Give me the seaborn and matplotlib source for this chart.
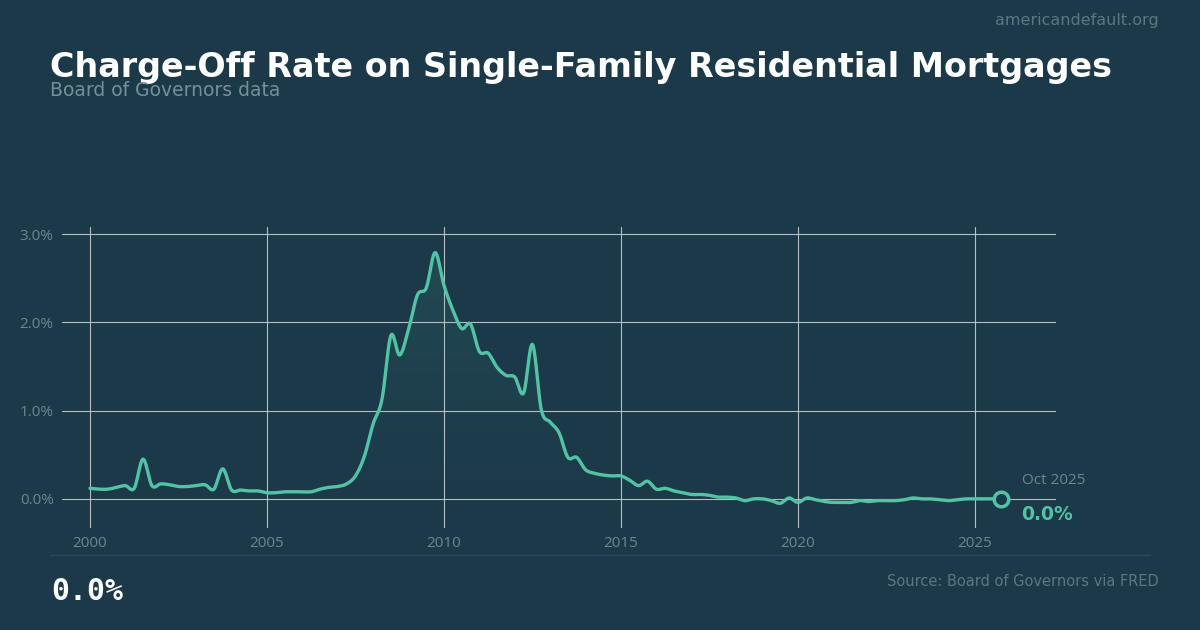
import numpy as np
import pandas as pd
import matplotlib
matplotlib.use('Agg')
import matplotlib.pyplot as plt
import seaborn as sns
from matplotlib.patches import Polygon


# quarterly charge-off rate, %, 2000Q1 .. 2025Q4
dates = pd.date_range('2000-01-01', '2025-10-01', freq='QS')
rate = [
    0.12, 0.11, 0.11, 0.13,   # 2000
    0.15, 0.12, 0.45, 0.15,   # 2001
    0.17, 0.16, 0.14, 0.14,   # 2002
    0.15, 0.16, 0.11, 0.34,   # 2003
    0.10, 0.10, 0.09, 0.09,   # 2004
    0.07, 0.07, 0.08, 0.08,   # 2005
    0.08, 0.08, 0.11, 0.13,   # 2006
    0.14, 0.17, 0.26, 0.48,   # 2007
    0.85, 1.13, 1.85, 1.63,   # 2008
    1.92, 2.31, 2.39, 2.79,   # 2009
    2.42, 2.14, 1.93, 1.98,   # 2010
    1.67, 1.65, 1.49, 1.40,   # 2011
    1.38, 1.20, 1.75, 1.01,   # 2012
    0.87, 0.75, 0.47, 0.47,   # 2013
    0.33, 0.29, 0.27, 0.26,   # 2014
    0.26, 0.21, 0.15, 0.20,   # 2015
    0.11, 0.12, 0.09, 0.07,   # 2016
    0.05, 0.05, 0.04, 0.02,   # 2017
    0.02, 0.01, -0.02, 0.00,  # 2018
    0.00, -0.02, -0.05, 0.01, # 2019
    -0.04, 0.01, -0.01, -0.03, # 2020
    -0.04, -0.04, -0.04, -0.02, # 2021
    -0.03, -0.02, -0.02, -0.02, # 2022
    -0.01, 0.01, 0.00, 0.00,  # 2023
    -0.01, -0.02, -0.01, 0.00, # 2024
    0.00, 0.00, 0.00, 0.00,   # 2025
]
year_ticks = [2000, 2005, 2010, 2015, 2020, 2025]
pct_ticks = [0, 1, 2, 3]

BG = '#1c3949'
LINE = '#52c4a5'
MUTED = '#6c8792'
TICKFONT = 'Open Sans'

df = pd.DataFrame({'date': dates, 'rate': rate})
df['year'] = df['date'].dt.year + (df['date'].dt.month - 1) / 12


def catmull_rom(x, y, n=16):
    # smooth display path through the quarterly points
    xp = np.concatenate([[2 * x[0] - x[1]], x, [2 * x[-1] - x[-2]]])
    yp = np.concatenate([[2 * y[0] - y[1]], y, [2 * y[-1] - y[-2]]])
    xs, ys = [], []
    t = np.linspace(0, 1, n, endpoint=False)
    for i in range(len(x) - 1):
        p0, p1, p2, p3 = yp[i:i + 4]
        ys.append(0.5 * (2 * p1 + (-p0 + p2) * t + (2 * p0 - 5 * p1 + 4 * p2 - p3) * t ** 2
                         + (-p0 + 3 * p1 - 3 * p2 + p3) * t ** 3))
        xs.append(xp[i + 1] + (xp[i + 2] - xp[i + 1]) * t)
    xs.append([x[-1]])
    ys.append([y[-1]])
    return np.concatenate(xs), np.concatenate(ys)


sx, sy = catmull_rom(df['year'].to_numpy(), df['rate'].to_numpy())
smooth = pd.DataFrame({'year': sx, 'rate': sy})

sns.set_style('white', {'axes.facecolor': BG, 'figure.facecolor': BG})
plt.rcParams['font.family'] = ['DejaVu Sans']

fig = plt.figure(figsize=(12, 6.3), dpi=100)
ax = fig.add_axes([62 / 1200, 1 - 528 / 630, 994 / 1200, 301 / 630])
ax.set_facecolor(BG)

# soft gradient under the curve
grad = np.linspace(0, 1, 256).reshape(-1, 1)
cmap = matplotlib.colors.LinearSegmentedColormap.from_list(
    'g', [(0.32, 0.77, 0.65, 0.0), (0.32, 0.77, 0.65, 0.12)])
img = ax.imshow(grad, extent=[sx[0], sx[-1], 0, 2.9], origin='lower', aspect='auto',
                cmap=cmap, zorder=1)
poly = Polygon(np.column_stack([np.r_[sx[0], sx, sx[-1]], np.r_[0, sy, 0]]),
               closed=True, facecolor='none', edgecolor='none')
ax.add_patch(poly)
img.set_clip_path(poly)

sns.lineplot(data=smooth, x='year', y='rate', ax=ax, color=LINE, linewidth=2.4,
             zorder=3, estimator=None, sort=False)

last = df.iloc[-1]
ax.scatter([last['year']], [last['rate']], s=110, facecolor=BG, edgecolor=LINE,
           linewidth=2.5, zorder=4)
ax.annotate(last['date'].strftime('%b %Y'), (last['year'], last['rate']),
            xytext=(14.5, 13.5), textcoords='offset points', ha='left', va='center',
            color=MUTED, fontsize=11, family=TICKFONT)
ax.annotate(f"{last['rate']:.1f}%", (last['year'], last['rate']),
            xytext=(14.5, -11.5), textcoords='offset points', ha='left', va='center',
            color=LINE, fontsize=13.5, fontweight='bold', family='DejaVu Sans')

ax.set_xlim(1999.21, 2027.29)
ax.set_ylim(-0.33, 3.08)
ax.set_xticks(year_ticks)
ax.set_yticks(pct_ticks)
ax.set_xticklabels([str(y) for y in year_ticks])
ax.set_yticklabels([f'{v:.1f}%' for v in pct_ticks])
ax.grid(True, color='#c9cdcf', linewidth=0.8, alpha=0.9, zorder=0)
ax.set_axisbelow(True)
ax.tick_params(length=0, pad=6, labelcolor=MUTED, labelsize=11)
for lab in ax.get_xticklabels() + ax.get_yticklabels():
    lab.set_family(TICKFONT)
for s in ax.spines.values():
    s.set_visible(False)
ax.set_xlabel('')
ax.set_ylabel('')

fig.text(50 / 1200, 1 - 67 / 630, 'Charge-Off Rate on Single-Family Residential Mortgages',
         color='white', fontsize=24, fontweight='bold', va='center', ha='left')
fig.text(50 / 1200, 1 - 91 / 630, 'Board of Governors data', color='#778f9a',
         fontsize=13.5, va='center', ha='left')
fig.text(1159 / 1200, 1 - 20 / 630, 'americandefault.org', color='#5c7783',
         fontsize=11.5, va='center', ha='right')
fig.add_artist(plt.Line2D([50 / 1200, 1150 / 1200], [1 - 555 / 630] * 2,
                          color='#2a4a5a', linewidth=1))
fig.text(51 / 1200, 1 - 591 / 630, f"{rate[-1]:.1f}%", color='white', fontsize=21.5,
         fontweight='bold', family='DejaVu Sans Mono', va='center', ha='left')
fig.text(1159 / 1200, 1 - 581 / 630, 'Source: Board of Governors via FRED', color='#5c7783',
         fontsize=10.5, va='center', ha='right')

fig.savefig('out.png', dpi=100, facecolor=BG)
